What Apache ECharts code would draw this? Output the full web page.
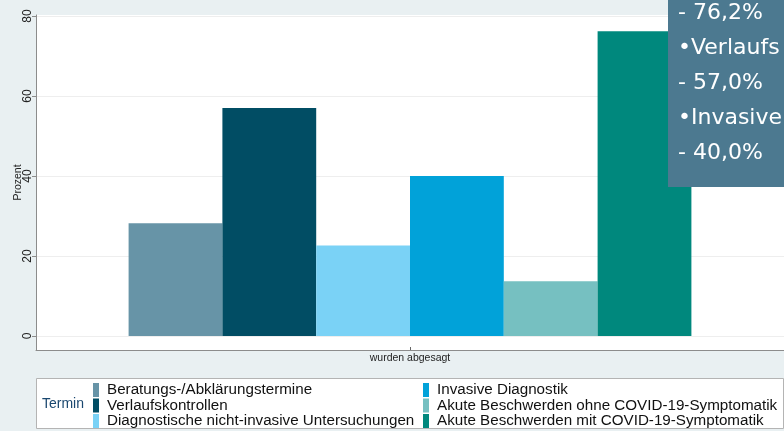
<!DOCTYPE html>
<html>
<head>
<meta charset="utf-8">
<script src="https://cdn.jsdelivr.net/npm/echarts@6/dist/echarts.min.js"></script>
<style>
html,body{margin:0;padding:0;background:#e9f0f2;}
#chart{width:784px;height:431px;}
</style>
</head>
<body>
<div id="chart"></div>
<script>
var categories = ['wurden abgesagt'];
var seriesNames = [
  'Beratungs-/Abklärungstermine',
  'Verlaufskontrollen',
  'Diagnostische nicht-invasive Untersuchungen',
  'Invasive Diagnostik',
  'Akute Beschwerden ohne COVID-19-Symptomatik',
  'Akute Beschwerden mit COVID-19-Symptomatik'
];
var seriesValues = [28.2, 57.0, 22.6, 40.0, 13.7, 76.2];
var seriesColors = ['#6794a7', '#014d64', '#7ad2f6', '#01a2d9', '#76c0c1', '#00887d'];
var yTicks = [0, 20, 40, 60, 80];
var overlayLines = ['- 76,2%', '\u2022Verlaufs', '- 57,0%', '\u2022Invasive', '- 40,0%'];

var chart = echarts.init(document.getElementById('chart'));

var series = seriesNames.map(function (name, i) {
  var s = {
    name: name,
    type: 'bar',
    data: [seriesValues[i]],
    barWidth: 93.8,
    barGap: '0%',
    itemStyle: { color: seriesColors[i] },
    silent: true
  };
  if (i === 0) {
    s.markLine = {
      silent: true,
      symbol: 'none',
      label: { show: false },
      lineStyle: { color: '#eeeeee', width: 1, type: 'solid' },
      z: 0,
      data: yTicks.map(function (v) { return { yAxis: v }; })
    };
  }
  return s;
});

var legendCommon = {
  orient: 'vertical',
  top: 382.5,
  padding: 0,
  itemWidth: 6,
  itemHeight: 14,
  itemGap: 0.5,
  icon: 'rect',
  selectedMode: false,
  textStyle: {
    fontFamily: 'Liberation Sans, Arial, sans-serif',
    fontSize: 15.2,
    lineHeight: 14,
    color: '#111',
    padding: [0, 0, 0, 3]
  }
};

var option = {
  backgroundColor: '#e9f0f2',
  animation: false,
  grid: {
    left: 36, right: 0, top: 15, bottom: 81,
    outerBoundsMode: 'none',
    containLabel: false,
    show: true, backgroundColor: '#ffffff', borderWidth: 0
  },
  xAxis: {
    type: 'category',
    data: categories,
    axisLine: { onZero: false, lineStyle: { color: '#8c8c8c', width: 1 } },
    axisTick: { show: true, alignWithLabel: true, inside: true, length: 3, lineStyle: { color: '#666' } },
    axisLabel: {
      fontFamily: 'Liberation Sans, Arial, sans-serif',
      fontSize: 10.5, color: '#222', margin: 3
    }
  },
  yAxis: {
    type: 'value',
    min: -3.5,
    max: 80.25,
    name: 'Prozent',
    nameLocation: 'middle',
    nameGap: 12,
    nameRotate: 90,
    nameMoveOverlap: false,
    nameTextStyle: { fontFamily: 'Liberation Sans, Arial, sans-serif', fontSize: 10.5, color: '#222' },
    axisLine: { show: true, lineStyle: { color: '#8c8c8c', width: 1 } },
    axisTick: { show: true, length: 4, customValues: yTicks, lineStyle: { color: '#8c8c8c' } },
    splitLine: { show: false },
    axisLabel: {
      customValues: yTicks,
      rotate: 90,
      margin: 2,
      fontFamily: 'Liberation Sans, Arial, sans-serif',
      fontSize: 12,
      color: '#222'
    }
  },
  legend: [
    Object.assign({}, legendCommon, { left: 93, data: seriesNames.slice(0, 3) }),
    Object.assign({}, legendCommon, { left: 423, data: seriesNames.slice(3, 6) })
  ],
  graphic: [
    {
      type: 'rect', z: -1, silent: true,
      shape: { x: 36.5, y: 378.5, width: 747, height: 50 },
      style: { fill: '#ffffff', stroke: '#b4b4b4', lineWidth: 1 }
    },
    {
      type: 'text', left: 42, top: 397, silent: true,
      style: { text: 'Termin', fontFamily: 'Liberation Sans, Arial, sans-serif', fontSize: 14, fill: '#1a476f' }
    },
    {
      type: 'rect', silent: true, z: 200,
      shape: { x: 668, y: -2, width: 120, height: 189 },
      style: { fill: '#4c7990' }
    }
  ].concat(overlayLines.map(function (t, i) {
    return {
      type: 'text', silent: true, z: 201,
      x: 678, y: 13.5 + i * 35,
      style: {
        text: t, fill: '#ffffff',
        fontFamily: 'DejaVu Sans, sans-serif', fontSize: 22,
        verticalAlign: 'middle', align: 'left'
      }
    };
  })),
  series: series
};

chart.setOption(option);
</script>
</body>
</html>
